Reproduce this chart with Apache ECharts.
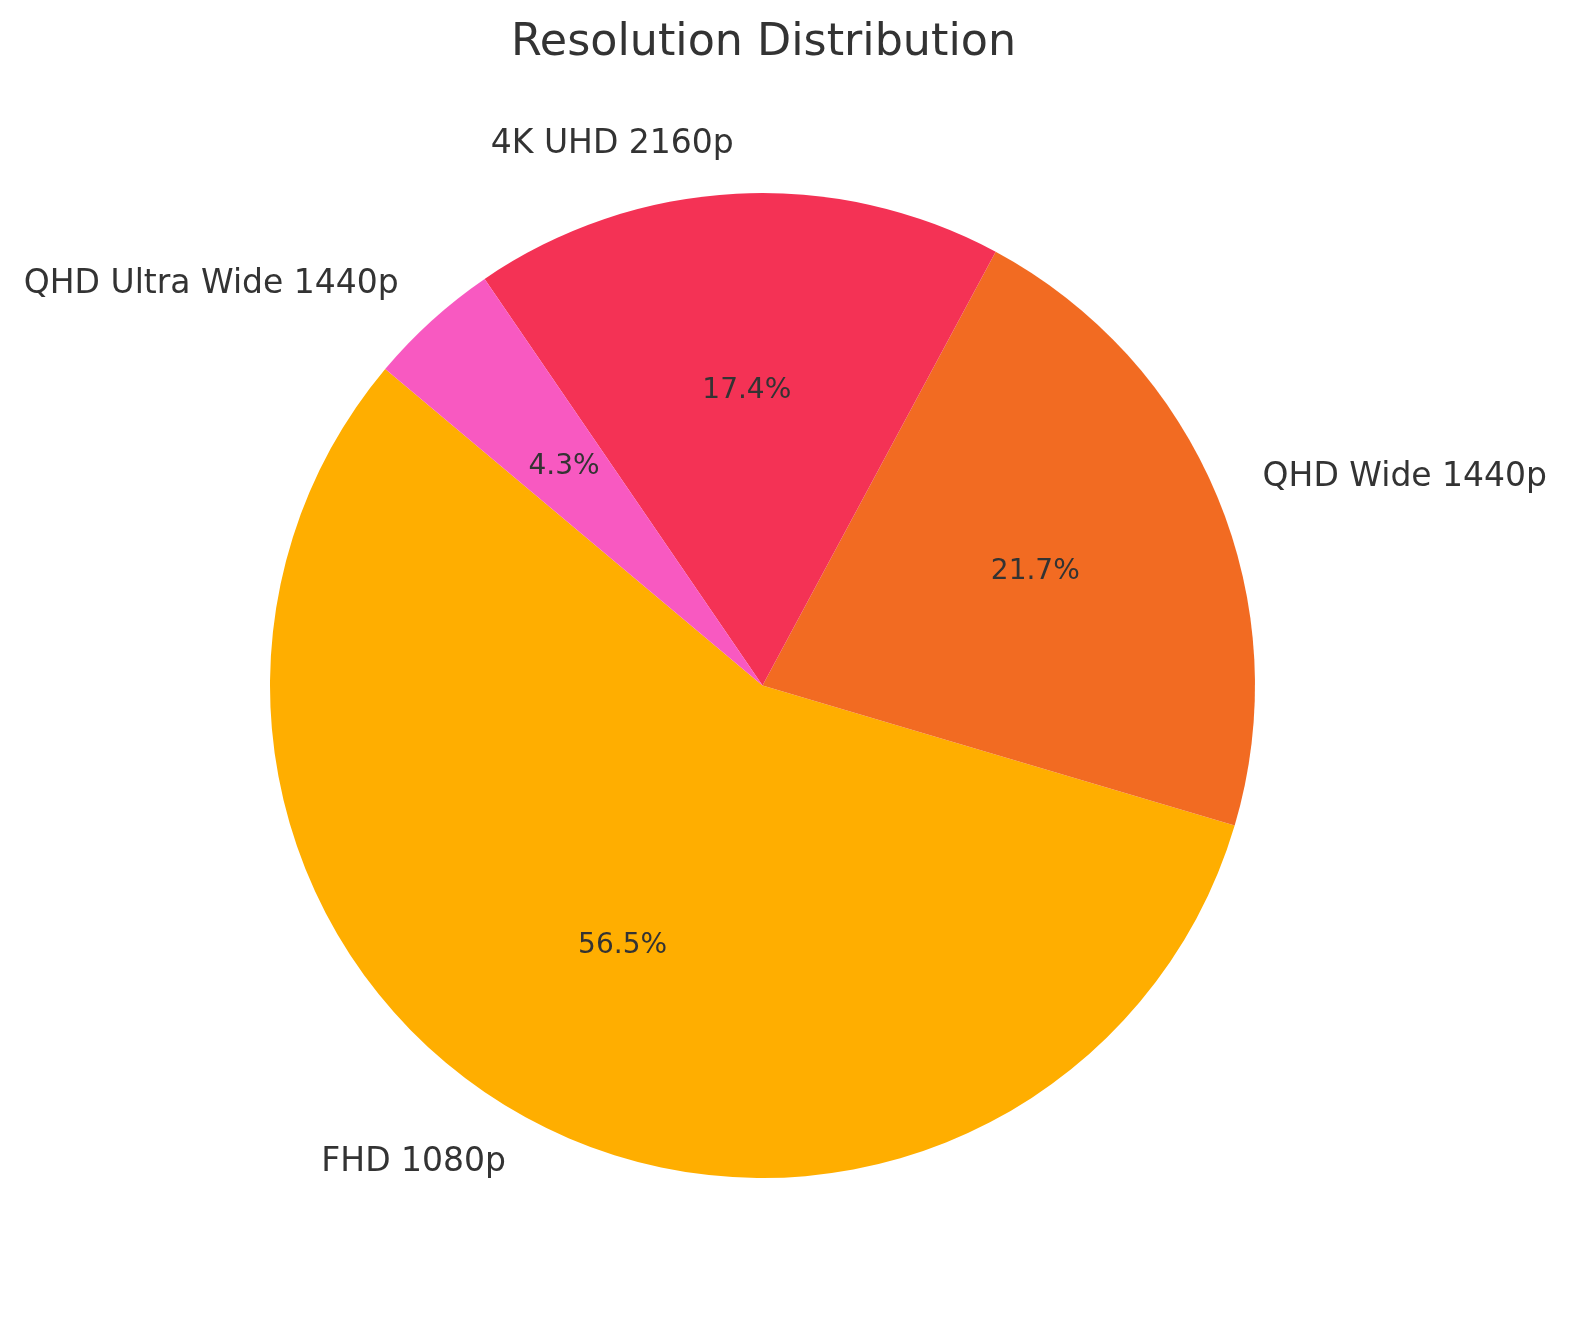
<!DOCTYPE html>
<html>
<head>
<meta charset="utf-8">
<script src="https://cdn.jsdelivr.net/npm/echarts@6/dist/echarts.min.js"></script>
<style>
html,body{margin:0;padding:0;background:#fff;}
#chart{width:1571px;height:1322px;}
</style>
</head>
<body>
<div id="chart"></div>
<script>
const categories = ['FHD 1080p', 'QHD Wide 1440p', '4K UHD 2160p', 'QHD Ultra Wide 1440p'];
const counts = [13, 5, 4, 1];
const colors = ['#FFAE00', '#F26B22', '#F43255', '#F859C1'];
const titleText = 'Resolution Distribution';

const total = counts.reduce((a, b) => a + b, 0);
const data = categories.map((c, i) => ({ name: c, value: counts[i], itemStyle: { color: colors[i] } }));

const FONT = 'DejaVu Sans';
const CX = 762.5, CY = 685.5, R = 492.5;

const chart = echarts.init(document.getElementById('chart'), null, { renderer: 'canvas' });
chart.setOption({
  animation: false,
  backgroundColor: '#ffffff',
  title: {
    text: titleText,
    left: 506,
    top: 16,
    textStyle: { fontFamily: FONT, fontSize: 44.4, fontWeight: 'normal', color: '#333333' }
  },
  series: [
    {
      type: 'pie',
      center: [CX, CY],
      radius: [0, R],
      startAngle: 140,
      clockwise: false,
      avoidLabelOverlap: false,
      silent: true,
      data: data,
      itemStyle: { borderWidth: 0 },
      emphasis: { disabled: true, scale: false },
      label: {
        show: true,
        position: 'outside',
        alignTo: 'none',
        distanceToLabelLine: 0,
        fontFamily: FONT,
        fontSize: 33,
        color: '#333333',
        formatter: '{b}'
      },
      labelLine: { show: false, length: R * 0.1, length2: 0 }
    },
    {
      type: 'pie',
      center: [CX, CY],
      radius: [R * 0.2 - 6, R],
      startAngle: 140,
      clockwise: false,
      avoidLabelOverlap: false,
      silent: true,
      data: categories.map((c, i) => ({ name: c, value: counts[i] })),
      itemStyle: { color: 'rgba(0,0,0,0)', borderWidth: 0 },
      emphasis: { disabled: true, scale: false },
      label: {
        show: true,
        position: 'inside',
        fontFamily: FONT,
        fontSize: 28,
        color: '#333333',
        formatter: p => (counts[p.dataIndex] / total * 100).toFixed(1) + '%'
      },
      labelLine: { show: false }
    }
  ]
});
</script>
</body>
</html>
